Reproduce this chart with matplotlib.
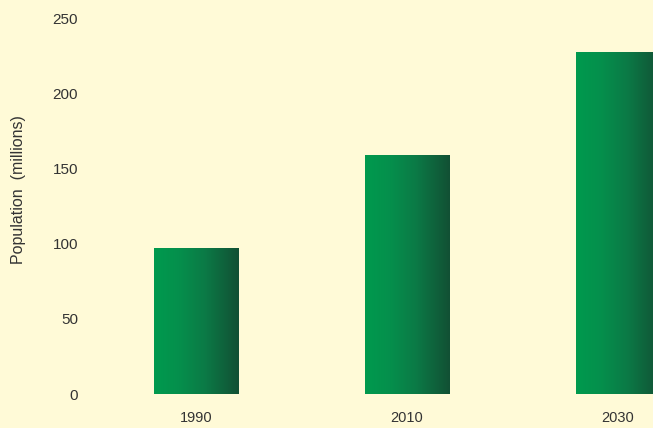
import numpy as np
import matplotlib.pyplot as plt
from matplotlib.colors import LinearSegmentedColormap

years = ["1990", "2010", "2030"]
population = [97, 158.5, 227]

bg = "#fffad7"
cmap = LinearSegmentedColormap.from_list("grn", [(0, "#009a4e"), (0.3, "#058f4c"),
                                                 (0.6, "#0b7a46"), (1, "#125034")])

fig = plt.figure(figsize=(6.53, 4.28), dpi=100, facecolor=bg)
ax = fig.add_axes([90.5 / 653, 34 / 428, (653 - 90.5) / 653, (394 - 18) / 428])
ax.set_facecolor(bg)

x = np.arange(len(years))
bars = ax.bar(x, population, width=0.4, color="none")

grad = np.linspace(0, 1, 256).reshape(1, -1)
for b in bars:
    x0, w, h = b.get_x(), b.get_width(), b.get_height()
    ax.imshow(grad, cmap=cmap, aspect="auto", extent=(x0, x0 + w, 0, h), zorder=2)

ax.set_xlim(-0.5, (653 - 196) / 211)
ax.set_ylim(0, 250)
ax.set_xticks(x)
ax.set_xticklabels(years)
ax.set_yticks(range(0, 251, 50))
for s in ax.spines.values():
    s.set_visible(False)
ax.tick_params(length=0, colors="#333333")
ax.tick_params(axis="x", pad=12, labelsize=10.5)
ax.tick_params(axis="y", pad=9, labelsize=11)
for lab in ax.get_xticklabels() + ax.get_yticklabels():
    lab.set_fontfamily("Liberation Sans")
ax.set_ylabel("Population  (millions)", fontsize=11.5, color="#333333",
              fontfamily="Liberation Sans")
ax.yaxis.set_label_coords(-0.115, 0.545)

fig.savefig("out.png", dpi=100, facecolor=bg)
